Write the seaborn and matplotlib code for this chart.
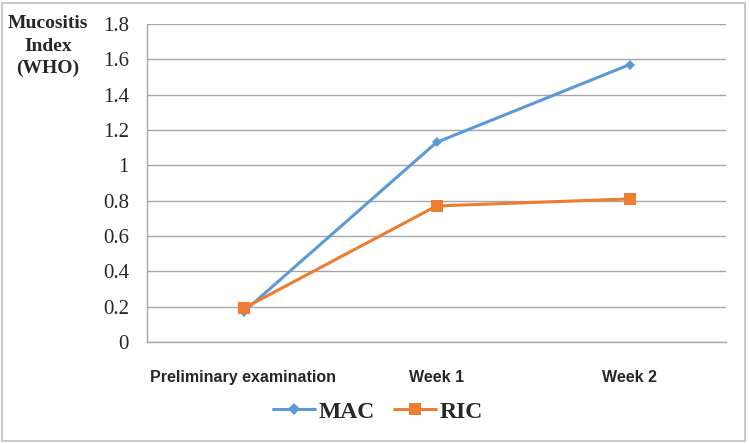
import matplotlib
matplotlib.use("Agg")
import matplotlib.pyplot as plt
import seaborn as sns
import pandas as pd
from matplotlib.patches import Rectangle
from matplotlib.lines import Line2D

categories = ["Preliminary examination", "Week 1", "Week 2"]
mac_values = [0.17, 1.13, 1.57]
ric_values = [0.19, 0.77, 0.81]
series_names = ["MAC", "RIC"]
y_ticks = [0, 0.2, 0.4, 0.6, 0.8, 1.0, 1.2, 1.4, 1.6, 1.8]
y_tick_labels = ["0", "0.2", "0.4", "0.6", "0.8", "1", "1.2", "1.4", "1.6", "1.8"]
title_lines = ["Mucositis", "Index", "(WHO)"]

df = pd.DataFrame({
    "pos": list(range(len(categories))) * 2,
    "value": mac_values + ric_values,
    "series": [series_names[0]] * 3 + [series_names[1]] * 3,
})

sns.set_style("white")
W, H = 749, 444
fig = plt.figure(figsize=(W / 100, H / 100), dpi=100)
fig.patch.set_facecolor("white")
fig.patches.append(Rectangle((2 / W, 3 / H), 743 / W, 438 / H, transform=fig.transFigure,
                             fill=False, edgecolor="#BFBFBF", linewidth=1.2))

ax = fig.add_axes([147 / W, (H - 342) / H, (726 - 147) / W, (342 - 24) / H])
palette = {"MAC": "#5B9BD5", "RIC": "#ED7D31"}
markers = {"MAC": "D", "RIC": "s"}
sns.lineplot(data=df, x="pos", y="value", hue="series", style="series",
             palette=palette, markers=markers, dashes=False, linewidth=2.2,
             markersize=7, markeredgewidth=0, ax=ax, legend=False)
for line in ax.lines:
    if line.get_marker() == "D":
        line.set_markersize(5.5)
    elif line.get_marker() == "s":
        line.set_markersize(8)

ax.set_xlim(-0.5, 2.5)
ax.set_ylim(0, 1.8)
ax.set_yticks(y_ticks)
ax.set_yticklabels(y_tick_labels, fontfamily="Liberation Serif", fontsize=15)
ax.set_xticks(range(len(categories)))
ax.set_xticklabels(categories, fontfamily="Liberation Sans", fontweight="bold", fontsize=11.5)
ax.set_xticks([-0.5, 0.5, 1.5, 2.5], minor=True)
ax.tick_params(axis="x", which="major", length=0, pad=20)
ax.tick_params(axis="x", which="minor", length=5, width=1, color="#A6A6A6", direction="out")
ax.tick_params(axis="y", length=5, width=1, color="#A6A6A6", direction="out", pad=8)
ax.yaxis.grid(True, color="#A6A6A6", linewidth=1)
ax.set_axisbelow(True)
ax.set_xlabel("")
ax.set_ylabel("")
for s in ["top", "right"]:
    ax.spines[s].set_visible(False)
for s in ["left", "bottom"]:
    ax.spines[s].set_color("#A6A6A6")
    ax.spines[s].set_linewidth(1)

for i, t in enumerate(title_lines):
    fig.text(48 / W, 1 - (24 + 22 * i) / H, t, ha="center", va="center",
             fontfamily="Liberation Serif", fontweight="bold", fontsize=14)

handles = [Line2D([], [], color=palette[n], marker=markers[n], linewidth=2.2,
                  markersize=6 if n == "MAC" else 8, markeredgewidth=0) for n in series_names]
fig.legend(handles, series_names, loc="center", bbox_to_anchor=(378 / W, 1 - 412 / H),
           ncol=2, frameon=False, prop={"family": "Liberation Serif", "weight": "bold", "size": 17},
           handlelength=1.8, handletextpad=0.15, columnspacing=0.8)

fig.savefig("out.png", dpi=100)
